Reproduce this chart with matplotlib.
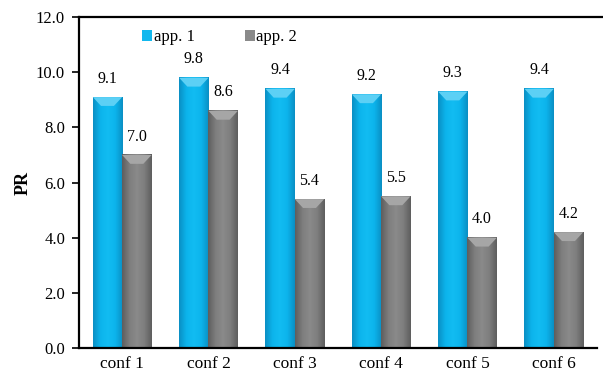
import numpy as np
import matplotlib.pyplot as plt
from matplotlib.patches import Patch, Polygon
from matplotlib.lines import Line2D
from matplotlib.colors import LinearSegmentedColormap

configs = ["conf 1", "conf 2", "conf 3", "conf 4", "conf 5", "conf 6"]
app1 = [9.1, 9.8, 9.4, 9.2, 9.3, 9.4]
app2 = [7.0, 8.6, 5.4, 5.5, 4.0, 4.2]
series_names = ["app. 1", "app. 2"]

plt.rcParams['font.family'] = ['Liberation Serif', 'DejaVu Serif']
plt.rcParams['font.size'] = 12

blue_cm = LinearSegmentedColormap.from_list("b", ["#0a8fc4", "#0cb4ec", "#12bcf2", "#0cb4ec", "#0a8fc4"])
gray_cm = LinearSegmentedColormap.from_list("g", ["#5e5e5e", "#7e7e7e", "#8a8a8a", "#7e7e7e", "#5e5e5e"])
grad = np.linspace(0, 1, 64).reshape(1, -1)

fig = plt.figure(figsize=(6.03, 3.8), dpi=100)
ax = fig.add_axes([0.131, 0.084, 0.859, 0.871])

x = np.arange(len(configs))
w = 0.34

def shaded_bar(xc, h, cmap, top_col):
    x0, x1 = xc - w / 2, xc + w / 2
    ax.imshow(grad, cmap=cmap, extent=(x0, x1, 0, h), aspect='auto', zorder=2)
    # bevelled top
    d = 0.32
    ax.add_patch(Polygon([(x0, h), (x1, h), (x1 - w * 0.28, h - d), (x0 + w * 0.28, h - d)],
                         closed=True, facecolor=top_col, edgecolor='none', zorder=3))
    ax.text(xc, h + 0.38, f"{h:.1f}", ha='center', va='bottom', fontsize=11.5)

for i in range(len(configs)):
    shaded_bar(x[i] - w / 2, app1[i], blue_cm, "#5cd0f5")
    shaded_bar(x[i] + w / 2, app2[i], gray_cm, "#a6a6a6")

ax.set_xlim(-0.5, len(configs) - 0.5)
ax.set_ylim(0, 12)
ax.set_yticks(np.arange(0, 12.1, 2))
ax.set_yticklabels([f"{v:.1f}" for v in np.arange(0, 12.1, 2)])
ax.set_xticks(x)
ax.set_xticklabels(configs, fontsize=12.5)
ax.tick_params(axis='x', length=0, pad=6)
ax.tick_params(axis='y', length=5, width=1.2, direction='out', pad=5)
ax.set_ylabel("PR", fontweight='bold', fontsize=13, labelpad=3)

for s in ["left", "bottom"]:
    ax.spines[s].set_linewidth(1.6)
ax.spines["right"].set_visible(False)
ax.spines["top"].set_visible(False)
# top border runs to the right edge of the figure
fig.add_artist(Line2D([0.131, 1.0], [0.955, 0.955], color='black', linewidth=1.6,
                      transform=fig.transFigure))

handles = [Patch(facecolor="#12b8ee"), Patch(facecolor="#8a8a8a")]
ax.legend(handles, series_names, loc='upper left', bbox_to_anchor=(0.093, 1.008), ncol=2,
          frameon=False, handlelength=0.6, handleheight=0.6, handletextpad=0.1,
          columnspacing=3.0, fontsize=12)

fig.savefig("out.png", dpi=100)
